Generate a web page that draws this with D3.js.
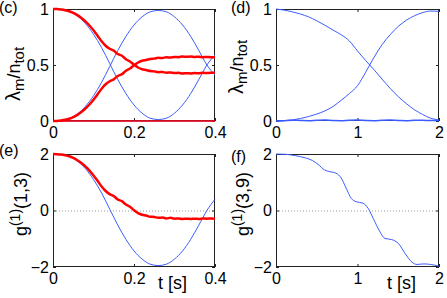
<!DOCTYPE html>
<html>
<head>
<meta charset="utf-8">
<script src="https://cdn.jsdelivr.net/npm/d3@7"></script>
<style>
  body { margin: 0; background: #fff; }
  text { font-family: "Liberation Sans", Arial, sans-serif; }
</style>
</head>
<body>
<div id="fig"></div>
<script>
var W = 447, H = 298;

// time grid for panels (c) and (e)
var tShort = [0, 0.02, 0.04, 0.06, 0.08, 0.10, 0.12, 0.14, 0.16, 0.18, 0.20,
              0.22, 0.24, 0.26, 0.28, 0.30, 0.32, 0.34, 0.36, 0.38, 0.40];

// (c) eigenvalues, theory (blue)
var cBlueFall = [1.0, 0.995, 0.978, 0.938, 0.87, 0.775, 0.655, 0.513, 0.37, 0.245, 0.143,
                 0.07, 0.025, 0.013, 0.025, 0.07, 0.143, 0.245, 0.37, 0.5, 0.59];
var cBlueRise = [0.0, 0.005, 0.022, 0.062, 0.13, 0.225, 0.345, 0.487, 0.63, 0.755, 0.857,
                 0.93, 0.975, 0.987, 0.975, 0.93, 0.857, 0.755, 0.63, 0.5, 0.41];
var cZero     = [0, 0, 0, 0, 0, 0, 0, 0, 0, 0, 0, 0, 0, 0, 0, 0, 0, 0, 0, 0, 0];

// experiment (red), finer and noisy
var tFine = [0, 0.01, 0.02, 0.03, 0.04, 0.05, 0.06, 0.07, 0.08, 0.09, 0.10,
             0.11, 0.12, 0.13, 0.14, 0.15, 0.16, 0.17, 0.18, 0.19, 0.20,
             0.21, 0.22, 0.23, 0.24, 0.25, 0.26, 0.27, 0.28, 0.29, 0.30,
             0.31, 0.32, 0.33, 0.34, 0.35, 0.36, 0.37, 0.38, 0.39, 0.40];
var cRedFall = [1.0, 0.999, 0.995, 0.989, 0.98, 0.965, 0.945, 0.92, 0.89, 0.853, 0.81,
                0.762, 0.712, 0.672, 0.645, 0.628, 0.598, 0.583, 0.552, 0.532, 0.503,
                0.478, 0.462, 0.455, 0.446, 0.443, 0.436, 0.438, 0.431, 0.434, 0.428,
                0.43, 0.424, 0.427, 0.425, 0.428, 0.426, 0.43, 0.428, 0.431, 0.43];
var cRedRise = [0.0, 0.001, 0.005, 0.011, 0.02, 0.035, 0.055, 0.08, 0.11, 0.147, 0.19,
                0.238, 0.288, 0.328, 0.355, 0.372, 0.402, 0.417, 0.448, 0.468, 0.497,
                0.522, 0.538, 0.545, 0.554, 0.557, 0.564, 0.562, 0.569, 0.566, 0.572,
                0.57, 0.576, 0.573, 0.575, 0.572, 0.574, 0.57, 0.572, 0.569, 0.57];

// (e) g(1)(1,3)
var eBlue = [2.0, 1.98, 1.91, 1.75, 1.48, 1.10, 0.62, 0.05, -0.52, -1.02, -1.43,
             -1.72, -1.90, -1.95, -1.90, -1.72, -1.43, -1.02, -0.52, 0.0, 0.40];
var eRed  = [2.0, 1.995, 1.98, 1.955, 1.92, 1.86, 1.78, 1.68, 1.56, 1.41, 1.24,
             1.05, 0.85, 0.69, 0.58, 0.51, 0.39, 0.33, 0.21, 0.13, 0.01,
             -0.09, -0.15, -0.18, -0.22, -0.23, -0.26, -0.25, -0.28, -0.26, -0.29,
             -0.28, -0.30, -0.29, -0.30, -0.29, -0.30, -0.28, -0.29, -0.28, -0.29];

// (d) long time eigenvalues
var tLong = [0, 0.1, 0.2, 0.3, 0.4, 0.5, 0.6, 0.7, 0.8, 0.9, 1.0,
             1.1, 1.2, 1.3, 1.4, 1.5, 1.6, 1.7, 1.8, 1.9, 2.0];
var dFall = [1.0, 0.99, 0.975, 0.955, 0.93, 0.895, 0.855, 0.812, 0.77, 0.715, 0.625,
             0.54, 0.46, 0.375, 0.292, 0.218, 0.155, 0.1, 0.058, 0.024, 0.01];
var dRise = [0.0, 0.003, 0.01, 0.022, 0.04, 0.062, 0.09, 0.13, 0.185, 0.245, 0.315,
             0.435, 0.565, 0.68, 0.77, 0.845, 0.9, 0.94, 0.968, 0.982, 0.978];
var dLow  = [0.0, 0.003, 0.007, 0.005, 0.003, 0.006, 0.008, 0.004, 0.003, 0.007, 0.008,
             0.005, 0.003, 0.006, 0.008, 0.005, 0.003, 0.006, 0.007, 0.004, 0.005];

// (f) g(1)(3,9)
var tF = [0, 0.116, 0.24, 0.364, 0.447, 0.53, 0.592, 0.654, 0.737, 0.8, 0.861, 0.923, 0.985,
          1.068, 1.13, 1.193, 1.275, 1.337, 1.42, 1.503, 1.586, 1.669, 1.731, 1.814, 1.896, 2.0];
var gF = [2.0, 1.99, 1.94, 1.86, 1.77, 1.60, 1.44, 1.38, 1.32, 1.15, 0.79, 0.43, 0.31,
          0.26, 0.08, -0.28, -0.75, -0.99, -1.03, -1.17, -1.53, -1.83, -1.91, -1.89, -1.91, -1.97];

var blue = '#3a5cff';
var red = '#ff0000';

var svg = d3.select('#fig')
  .append('svg')
    .attr('width', W)
    .attr('height', H);

function zip(xs, ys) {
  return xs.map(function(x, i) { return [x, ys[i]]; });
}

function panel(p) {
  var x = d3.scaleLinear().domain(p.xdom).range([p.l, p.r]);
  var y = d3.scaleLinear().domain(p.ydom).range([p.b, p.t]);
  var g = svg.append('g');

  if (p.zeroLine) {
    g.append('line')
      .attr('x1', p.l).attr('x2', p.r)
      .attr('y1', y(0) + 0.5).attr('y2', y(0) + 0.5)
      .attr('stroke', '#999')
      .attr('stroke-dasharray', '1,2');
  }

  // box with inward ticks on all sides
  var axB = g.append('g').attr('transform', 'translate(0,' + p.b + ')')
    .call(d3.axisBottom(x).tickValues(p.xticks).tickSize(-3).tickPadding(6)
      .tickFormat(function(d) { return String(d); }));
  var axT = g.append('g').attr('transform', 'translate(0,' + p.t + ')')
    .call(d3.axisTop(x).tickValues(p.xticks).tickSize(-3).tickFormat(''));
  var axL = g.append('g').attr('transform', 'translate(' + p.l + ',0)')
    .call(d3.axisLeft(y).tickValues(p.yticks).tickSize(-3).tickPadding(4)
      .tickFormat(function(d) { return d < 0 ? '\u2212' + (-d) : String(d); }));
  var axR = g.append('g').attr('transform', 'translate(' + p.r + ',0)')
    .call(d3.axisRight(y).tickValues(p.yticks).tickSize(-3).tickFormat(''));

  [axB, axT, axL, axR].forEach(function(a) {
    a.select('.domain').remove();
    a.selectAll('text').attr('font-size', 16).attr('fill', '#000')
      .attr('font-family', '"Liberation Sans", Arial, sans-serif');
    a.selectAll('line').attr('stroke', '#222');
  });

  g.append('rect')
    .attr('x', p.l + 0.5).attr('y', p.t + 0.5)
    .attr('width', p.r - p.l - 1).attr('height', p.b - p.t - 1)
    .attr('fill', 'none')
    .attr('stroke', '#222');

  // curves on top of the box, as in the original
  var line = d3.line()
    .x(function(d) { return x(d[0]); })
    .y(function(d) { return y(d[1]); })
    .curve(d3.curveMonotoneX);

  p.series.forEach(function(s) {
    g.append('path')
      .attr('d', line(zip(s.x, s.y)))
      .attr('fill', 'none')
      .attr('stroke', s.color)
      .attr('stroke-width', s.w)
      .attr('stroke-linejoin', 'round');
  });

  // panel tag
  g.append('text')
    .attr('x', p.tagX).attr('y', p.tagY)
    .attr('font-size', 16)
    .text(p.tag);

  // y label
  var yl = g.append('text')
    .attr('transform', 'translate(' + p.ylX + ',' + p.ylY + ') rotate(-90)')
    .attr('text-anchor', 'middle')
    .attr('font-size', 18);
  p.ylabel(yl);

  if (p.xlabel) {
    g.append('text')
      .attr('x', p.xlX).attr('y', p.xlY)
      .attr('font-size', 18)
      .text(p.xlabel);
  }
}

function lambdaLabel(t) {
  t.append('tspan').attr('font-size', 20).text('\u03bb');
  t.append('tspan').attr('font-size', 15).attr('dy', 4).text('m');
  t.append('tspan').attr('dy', -4).text('/n');
  t.append('tspan').attr('font-size', 15).attr('dy', 4).text('tot');
}

function gLabel(pair) {
  return function(t) {
    t.append('tspan').text('g');
    t.append('tspan').attr('font-size', 14).attr('dy', -7).text('(1)');
    t.append('tspan').attr('dy', 7).text(pair);
  };
}

panel({
  l: 53, r: 215, t: 9, b: 121,
  xdom: [0, 0.4], ydom: [0, 1],
  xticks: [0, 0.2, 0.4], yticks: [0, 0.5, 1],
  tag: '(c)', tagX: -1, tagY: 13,
  ylX: 20, ylY: 74, ylabel: lambdaLabel,
  series: [
    { x: tShort, y: cZero, color: blue, w: 1 },
    { x: tShort, y: cBlueFall, color: blue, w: 1 },
    { x: tShort, y: cBlueRise, color: blue, w: 1 },
    { x: tShort, y: cZero, color: red, w: 1.5 },
    { x: tFine, y: cRedFall, color: red, w: 2.5 },
    { x: tFine, y: cRedRise, color: red, w: 2.5 }
  ]
});

panel({
  l: 276, r: 439, t: 9, b: 121,
  xdom: [0, 2], ydom: [0, 1],
  xticks: [0, 1, 2], yticks: [0, 0.5, 1],
  tag: '(d)', tagX: 231, tagY: 13,
  ylX: 243, ylY: 67, ylabel: lambdaLabel,
  series: [
    { x: tLong, y: dLow, color: blue, w: 1.5 },
    { x: tLong, y: dFall, color: blue, w: 1 },
    { x: tLong, y: dRise, color: blue, w: 1 }
  ]
});

panel({
  l: 53, r: 215, t: 154, b: 267,
  xdom: [0, 0.4], ydom: [-2, 2],
  xticks: [0, 0.2, 0.4], yticks: [-2, 0, 2],
  zeroLine: true,
  tag: '(e)', tagX: -1, tagY: 156,
  ylX: 27, ylY: 204, ylabel: gLabel('(1,3)'),
  xlabel: 't [s]', xlX: 158, xlY: 289,
  series: [
    { x: tShort, y: eBlue, color: blue, w: 1 },
    { x: tFine, y: eRed, color: red, w: 2.5 }
  ]
});

panel({
  l: 276, r: 439, t: 154, b: 267,
  xdom: [0, 2], ydom: [-2, 2],
  xticks: [0, 1, 2], yticks: [-2, 0, 2],
  zeroLine: true,
  tag: '(f)', tagX: 231, tagY: 162,
  ylX: 249, ylY: 204, ylabel: gLabel('(3,9)'),
  xlabel: 't [s]', xlX: 387, xlY: 289,
  series: [
    { x: tF, y: gF, color: blue, w: 1 }
  ]
});
</script>
</body>
</html>
